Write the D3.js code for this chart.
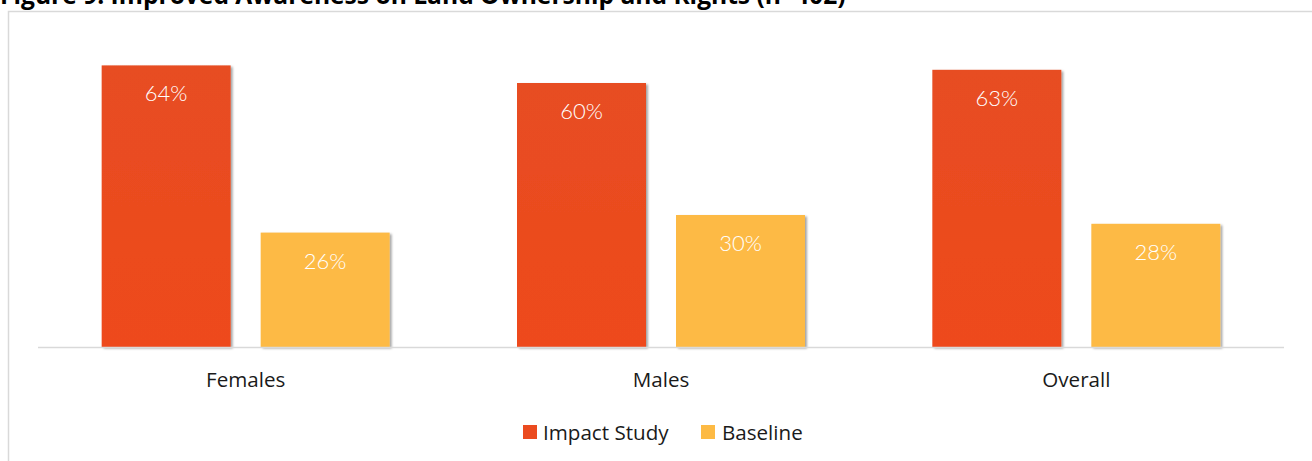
<!DOCTYPE html>
<html>
<head>
<meta charset="utf-8">
<script src="https://cdn.jsdelivr.net/npm/d3@7"></script>
<style>
  html, body { margin: 0; padding: 0; background: #ffffff; overflow: hidden; }
  svg { display: block; }
</style>
</head>
<body>
<svg id="chart" width="1312" height="461"></svg>
<script>
// Awareness on land ownership and rights, by respondent group
const categories = ["Females", "Males", "Overall"];
const seriesNames = ["Impact Study", "Baseline"];
const impactStudy = [64, 60, 63];
const baseline = [26, 30, 28];
const valueLabels = [["64%", "26%"], ["60%", "30%"], ["63%", "28%"]];
const titleText = "Figure 9: Improved Awareness on Land Ownership and Rights (n=402)";

const colors = { "Impact Study": "#EB4B1F", "Baseline": "#FDBA44" };

const W = 1312, H = 461;
const svg = d3.select("#chart");

const defs = svg.append("defs");
const shadow = defs.append("filter").attr("id", "barShadow")
  .attr("x", "-10%").attr("y", "-10%").attr("width", "130%").attr("height", "130%");
shadow.append("feDropShadow")
  .attr("dx", 2).attr("dy", 1.5).attr("stdDeviation", 1.3)
  .attr("flood-color", "#000").attr("flood-opacity", 0.35);

const redGrad = defs.append("linearGradient").attr("id", "redFill")
  .attr("x1", 0).attr("y1", 0).attr("x2", 0).attr("y2", 1);
redGrad.append("stop").attr("offset", "0%").attr("stop-color", "#E74D22");
redGrad.append("stop").attr("offset", "100%").attr("stop-color", "#EE4A1C");

// Title, running off the top edge of the page
svg.append("text")
  .attr("x", 0).attr("y", 4)
  .attr("font-family", "'Open Sans', sans-serif")
  .attr("font-weight", 700)
  .attr("font-size", 24.6)
  .attr("fill", "#000")
  .text(titleText);

// Chart frame
svg.append("rect")
  .attr("x", 8.5).attr("y", 11.5)
  .attr("width", W).attr("height", H)
  .attr("fill", "#ffffff")
  .attr("stroke", "#D9D9D9").attr("stroke-width", 1.5);

const plot = { left: 38, right: 1284, baseY: 347 };
const pxPerUnit = 4.40;

const x0 = d3.scaleBand().domain(categories).range([plot.left, plot.right]).padding(0);
const x1 = d3.scaleBand().domain(seriesNames).range([0, x0.bandwidth()])
  .paddingInner(0.1887).paddingOuter(0.4004);
const y = d3.scaleLinear().domain([0, 70]).range([plot.baseY, plot.baseY - 70 * pxPerUnit]);

const rows = categories.map((c, i) => ({
  category: c,
  values: [
    { series: "Impact Study", value: impactStudy[i], label: valueLabels[i][0] },
    { series: "Baseline", value: baseline[i], label: valueLabels[i][1] }
  ]
}));

const groups = svg.append("g").selectAll("g.group")
  .data(rows).join("g")
  .attr("class", "group")
  .attr("transform", d => `translate(${x0(d.category)},0)`);

groups.selectAll("rect.bar")
  .data(d => d.values).join("rect")
  .attr("class", "bar")
  .attr("x", d => x1(d.series))
  .attr("y", d => y(d.value))
  .attr("width", x1.bandwidth())
  .attr("height", d => y(0) - y(d.value))
  .attr("fill", d => d.series === "Impact Study" ? "url(#redFill)" : colors[d.series])
  .attr("filter", "url(#barShadow)");

groups.selectAll("text.val")
  .data(d => d.values).join("text")
  .attr("class", "val")
  .attr("x", d => x1(d.series) + x1.bandwidth() / 2)
  .attr("y", d => y(d.value) + 36)
  .attr("text-anchor", "middle")
  .attr("font-family", "Lato, sans-serif")
  .attr("font-weight", 300)
  .attr("font-size", 22)
  .attr("fill", "#ffffff")
  .text(d => d.label);

// Category axis
const xAxis = d3.axisBottom(x0).tickSize(0).tickPadding(0);
const axisG = svg.append("g")
  .attr("transform", `translate(0,${plot.baseY})`)
  .call(xAxis);
axisG.select(".domain").remove();
axisG.append("line")
  .attr("x1", plot.left).attr("x2", plot.right)
  .attr("y1", 0.5).attr("y2", 0.5)
  .attr("stroke", "#D9D9D9").attr("stroke-width", 1.5);
axisG.selectAll(".tick text")
  .attr("dy", 0).attr("y", 40)
  .attr("font-family", "'Open Sans', sans-serif")
  .attr("font-size", 20.6)
  .attr("fill", "#1a1a1a");

// Legend
const legendItems = [
  { name: "Impact Study", x: 523, textX: 543 },
  { name: "Baseline", x: 701, textX: 722 }
];
const legend = svg.append("g");
legend.selectAll("rect").data(legendItems).join("rect")
  .attr("x", d => d.x).attr("y", 425)
  .attr("width", 14).attr("height", 14)
  .attr("fill", d => colors[d.name]);
legend.selectAll("text").data(legendItems).join("text")
  .attr("x", d => d.textX).attr("y", 440)
  .attr("font-family", "'Open Sans', sans-serif")
  .attr("font-size", 20.6)
  .attr("fill", "#1a1a1a")
  .text(d => d.name);
</script>
</body>
</html>
